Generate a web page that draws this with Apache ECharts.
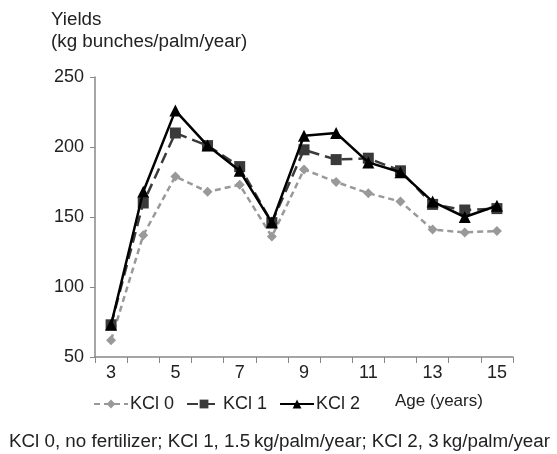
<!DOCTYPE html>
<html><head><meta charset="utf-8">
<script src="https://cdn.jsdelivr.net/npm/echarts@6/dist/echarts.min.js"></script>
<style>html,body{margin:0;padding:0;background:#fff}#c{width:557px;height:454px}</style>
</head><body><div id="c"></div>
<script>
const ages = ['3','4','5','6','7','8','9','10','11','12','13','14','15'];
const kcl0 = [62, 137, 179, 168, 173, 136, 184, 175, 167, 161, 141, 139, 140];
const kcl1 = [73, 160, 210, 201, 186, 146, 198, 191, 192, 183, 159, 155, 156];
const kcl2 = [73, 168, 226, 201, 183, 146, 208, 210, 189, 182, 161, 150, 158];
const yTicks = [50, 100, 150, 200, 250];
const font = 'Liberation Sans, Arial, sans-serif';
const fs = 18;
const chart = echarts.init(document.getElementById('c'));
chart.setOption({
  animation: false,
  textStyle: {fontFamily: font},
  grid: {left: 95, right: 44, top: 77, bottom: 97},
  title: [
    {text: 'Yields\n(kg bunches/palm/year)', left: 51, top: 9, padding: [0,0,0,0],
     textStyle: {fontSize: 18.8, fontWeight: 'normal', color: '#222', lineHeight: 22, fontFamily: font}},
    {text: 'Age (years)', left: 395, top: 393, padding: 0,
     textStyle: {fontSize: 17, fontWeight: 'normal', color: '#222', fontFamily: font}},
    {text: 'KCl 0, no fertilizer; KCl 1, 1.5\u2009kg/palm/year; KCl 2, 3\u2009kg/palm/year', left: 9, top: 432, padding: 0,
     textStyle: {fontSize: 18.8, fontWeight: 'normal', color: '#222', fontFamily: font}}
  ],
  legend: {
    left: 88, top: 390, itemWidth: 34, itemHeight: 11, itemGap: 12,
    textStyle: {fontSize: fs, color: '#222', fontFamily: font, padding: [0,0,0,-3]},
    data: ['KCl 0', 'KCl 1', 'KCl 2']
  },
  xAxis: {
    type: 'category', data: ages, boundaryGap: true,
    axisLine: {lineStyle: {color: '#888', width: 1.5}},
    axisTick: {show: true, interval: 0, length: 6, lineStyle: {color: '#888'}},
    axisLabel: {interval: 1, fontSize: fs, color: '#222', margin: 7}
  },
  yAxis: {
    type: 'value', min: yTicks[0], max: yTicks[yTicks.length - 1], interval: 50,
    splitLine: {show: false},
    axisLine: {show: true, lineStyle: {color: '#888', width: 1.5}},
    axisTick: {show: true, length: 5, lineStyle: {color: '#888'}},
    axisLabel: {fontSize: fs, color: '#222', margin: 11}
  },
  series: [
    {name: 'KCl 0', type: 'line', data: kcl0, symbol: 'diamond', symbolSize: 10,
     color: '#999', lineStyle: {width: 2.5, type: [6, 4], color: '#999'}, itemStyle: {color: '#999'}, z: 1},
    {name: 'KCl 1', type: 'line', data: kcl1, symbol: 'rect', symbolSize: 11,
     color: '#3a3a3a', lineStyle: {width: 2.5, type: [11, 6], color: '#3a3a3a'}, itemStyle: {color: '#3a3a3a'}, z: 2},
    {name: 'KCl 2', type: 'line', data: kcl2, symbol: 'triangle', symbolSize: 12,
     color: '#000', lineStyle: {width: 2.5, color: '#000'}, itemStyle: {color: '#000'}, z: 3}
  ]
});
</script></body></html>
